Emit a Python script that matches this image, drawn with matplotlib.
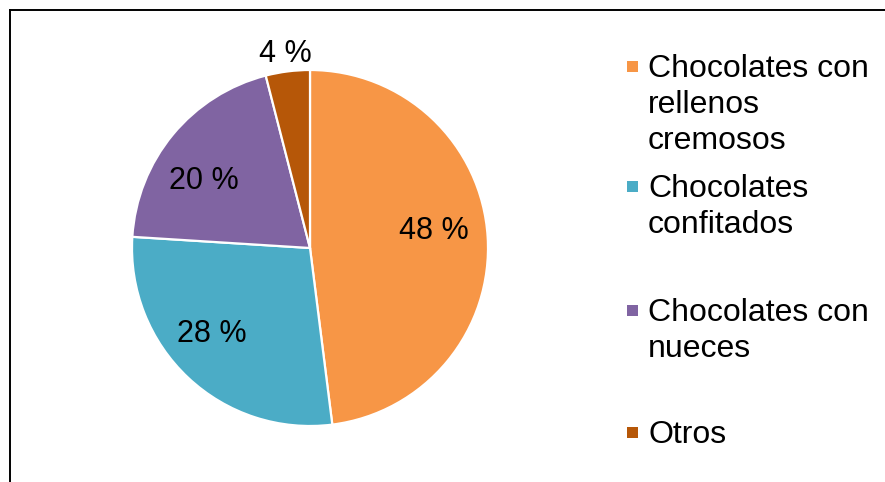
import numpy as np
import matplotlib
matplotlib.use("Agg")
import matplotlib.pyplot as plt
from matplotlib.patches import Rectangle
from matplotlib.lines import Line2D

plt.rcParams['font.family'] = ['Liberation Sans', 'DejaVu Sans']

categories = ["Chocolates con\nrellenos\ncremosos", "Chocolates\nconfitados",
              "Chocolates con\nnueces", "Otros"]
values = [48, 28, 20, 4]
colors = ["#F79646", "#4BACC6", "#8064A2", "#B65708"]

W, H = 885, 482
fig = plt.figure(figsize=(W / 100, H / 100), dpi=100)

# pie area: centre (310, 248) px, radius 178 px
cx, cy, r = 310, 248, 178
ax = fig.add_axes([(cx - r) / W, (H - cy - r) / H, 2 * r / W, 2 * r / H])
wedges, _ = ax.pie(values, colors=colors, startangle=90, counterclock=False,
                   radius=1, wedgeprops=dict(edgecolor="white", linewidth=1.6))
ax.set_xlim(-1, 1)
ax.set_ylim(-1, 1)
ax.set_aspect("auto")
ax.axis("off")

# value labels: (x, y) of each label's centre in pie units
label_pos = [(0.694, 0.115), (-0.551, -0.469), (-0.596, 0.393), (-0.140, 1.107)]
cap_half = 11 / r
for v, (lx, ly) in zip(values, label_pos):
    ax.text(lx, ly - cap_half, f"{v} %", ha="center", va="baseline",
            fontsize=22, color="black", clip_on=False)

# legend drawn by hand to keep the uneven spacing (baseline of first line, px)
entry_base = [77, 197, 321, 443]
line_h = 36
for name, col, b0 in zip(categories, colors, entry_base):
    my = b0 - 10.5
    fig.add_artist(Rectangle((627 / W, (H - my - 5.5) / H), 11 / W, 11 / H,
                             transform=fig.transFigure, facecolor=col,
                             edgecolor="none"))
    for i, line in enumerate(name.split("\n")):
        fig.text(648 / W, (H - b0 - i * line_h) / H, line, ha="left",
                 va="baseline", fontsize=23, color="black")

# chart border (top and left edges visible)
fig.add_artist(Line2D([9.5 / W, 9.5 / W], [0, (H - 9.5) / H], color="black",
                      linewidth=1.4, transform=fig.transFigure))
fig.add_artist(Line2D([9.5 / W, 1], [(H - 9.5) / H, (H - 9.5) / H],
                      color="black", linewidth=1.4, transform=fig.transFigure))

fig.savefig("out.png", dpi=100)
